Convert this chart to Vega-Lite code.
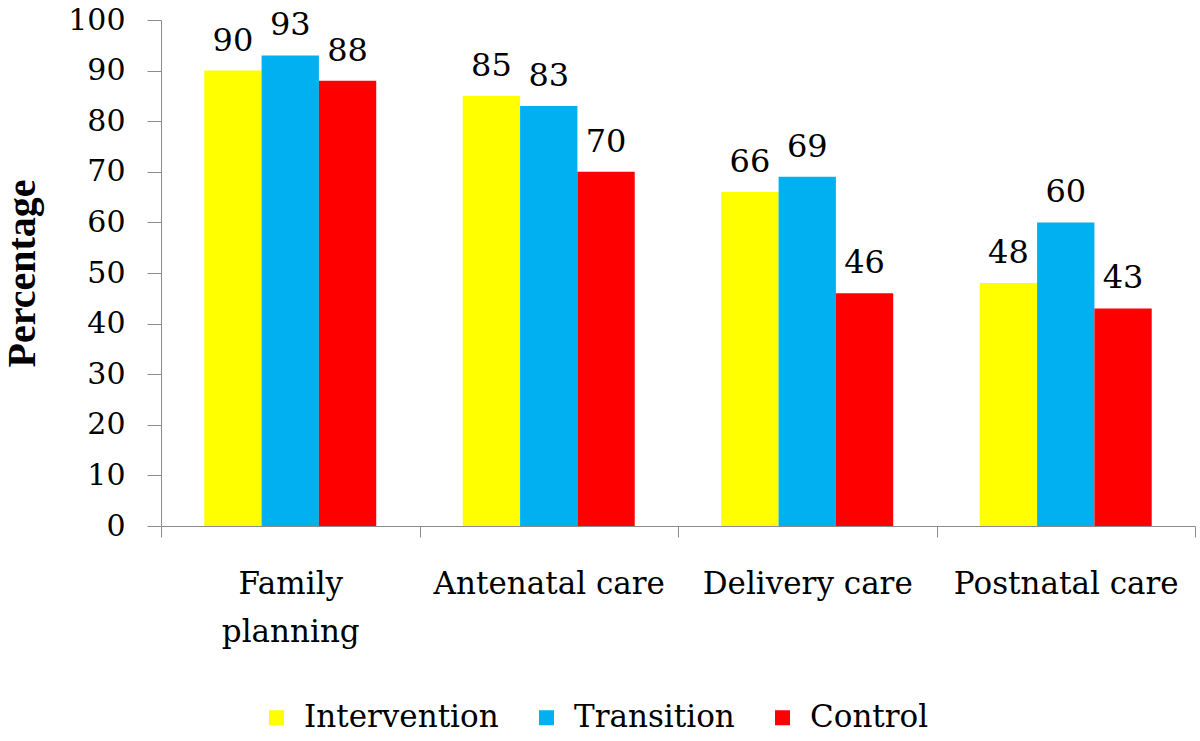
{
  "$schema": "https://vega.github.io/schema/vega-lite/v6.json",
  "autosize": {"type": "none"},
  "width": 1034,
  "height": 506,
  "padding": {"left": 161, "top": 20, "right": 5, "bottom": 215},
  "background": "white",
  "config": {
    "view": {"stroke": null},
    "axis": {"labelColor": "black", "titleColor": "black", "domainColor": "#8c8c8c", "tickColor": "#8c8c8c", "grid": false, "labelLimit": 0},
    "legend": {"labelFont": "DejaVu Serif", "labelLimit": 0}
  },
  "data": {
    "values": [
      {"category": "Family planning", "group": "Intervention", "value": 90},
      {"category": "Family planning", "group": "Transition", "value": 93},
      {"category": "Family planning", "group": "Control", "value": 88},
      {"category": "Antenatal care", "group": "Intervention", "value": 85},
      {"category": "Antenatal care", "group": "Transition", "value": 83},
      {"category": "Antenatal care", "group": "Control", "value": 70},
      {"category": "Delivery care", "group": "Intervention", "value": 66},
      {"category": "Delivery care", "group": "Transition", "value": 69},
      {"category": "Delivery care", "group": "Control", "value": 46},
      {"category": "Postnatal care", "group": "Intervention", "value": 48},
      {"category": "Postnatal care", "group": "Transition", "value": 60},
      {"category": "Postnatal care", "group": "Control", "value": 43}
    ]
  },
  "encoding": {
    "x": {
      "field": "category", "type": "nominal", "sort": null,
      "scale": {"paddingInner": 0, "paddingOuter": 0},
      "axis": {
        "title": null, "labelAngle": 0, "labelFontSize": 31, "labelLineHeight": 48, "labelFont": "DejaVu Serif",
        "labelPadding": 32, "tickSize": 11, "tickBand": "extent",
        "labelExpr": "datum.label == 'Family planning' ? ['Family', 'planning'] : datum.label"
      }
    },
    "xOffset": {
      "field": "group", "type": "nominal", "sort": ["Intervention", "Transition", "Control"],
      "scale": {"paddingInner": 0, "paddingOuter": 0.755}
    },
    "y": {
      "field": "value", "type": "quantitative",
      "scale": {"domain": [0, 100], "nice": false},
      "axis": {
        "title": "Percentage", "titleFontSize": 40, "titleFontWeight": "bold", "titleFont": "Liberation Serif",
        "titlePadding": 25, "values": [0, 10, 20, 30, 40, 50, 60, 70, 80, 90, 100],
        "labelFontSize": 30, "tickSize": 14, "labelPadding": 22, "labelFont": "DejaVu Serif"
      }
    }
  },
  "layer": [
    {
      "mark": {"type": "bar"},
      "encoding": {
        "color": {
          "field": "group", "type": "nominal",
          "sort": ["Intervention", "Transition", "Control"],
          "scale": {"domain": ["Intervention", "Transition", "Control"], "range": ["#FFFF00", "#00B0F0", "#FF0000"]},
          "legend": {
            "title": null, "orient": "none", "direction": "horizontal",
            "legendX": 100, "legendY": 682, "symbolType": "square", "symbolSize": 225,
            "labelFontSize": 31, "labelColor": "black",
            "columnPadding": 32, "labelOffset": 12, "padding": 0, "symbolStrokeWidth": 0
          }
        }
      }
    },
    {
      "mark": {"type": "text", "baseline": "alphabetic", "dy": -20, "fontSize": 32, "color": "black", "font": "DejaVu Serif"},
      "encoding": {"text": {"field": "value", "type": "quantitative"}}
    }
  ]
}
